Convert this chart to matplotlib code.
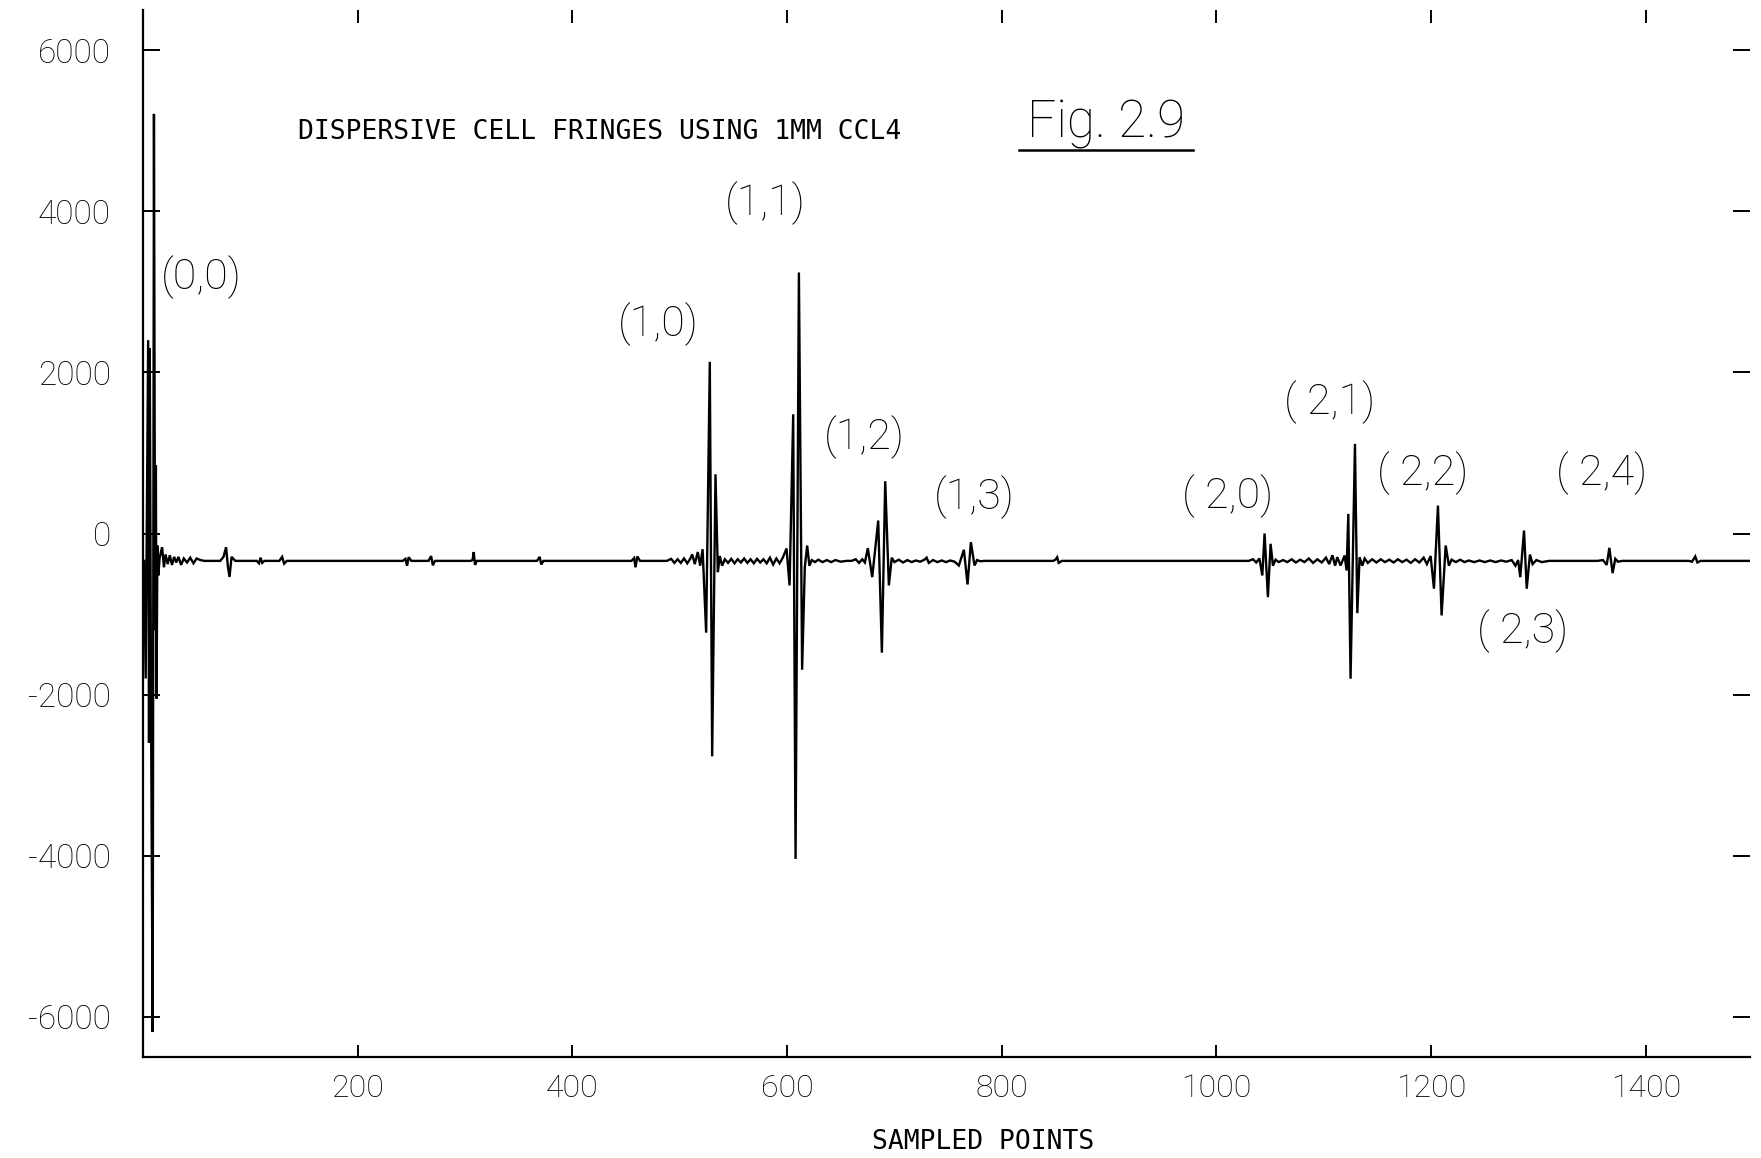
import numpy as np
import matplotlib
matplotlib.use("Agg")
import matplotlib.pyplot as plt
from matplotlib.lines import Line2D

plt.rcParams["axes.unicode_minus"] = False

# ---------------- data ----------------
x_limits = (0, 1497)
y_limits = (-6500, 6500)
x_ticks = [200, 400, 600, 800, 1000, 1200, 1400]
y_ticks = [-6000, -4000, -2000, 0, 2000, 4000, 6000]
baseline = -340

# burst (0,0) near the start and its ripple
b00_x = [1.0, 2.5, 4.8, 5.6, 6.3, 7.5, 9.0, 10.2, 11.3, 12.0, 12.6, 13.4, 14.3, 15.5,
         17.8, 19.5, 21.0, 23.0, 25.0, 27.0, 29.0, 31.0, 33.0, 35.5, 38.0, 41.0, 44.0,
         47.0, 50.0, 53.5, 57.0]
b00_y = [-340, -1800, 2400, -2600, 2300, -2200, -6190, 5210, -1200, 850, -2050, -150,
         -520, -300, -170, -420, -260, -380, -270, -390, -290, -360, -290, -390, -310,
         -360, -300, -370, -310, -330, -340]

# small blips along the baseline
ripple_x = [72, 75, 77.4, 79, 80.6, 82.5, 86,
            106, 108, 109.5, 111, 113,
            127, 129.6, 131.5, 134,
            242, 244.5, 246, 247.5, 250,
            266, 268.4, 270, 272,
            305, 307, 308.1, 309.3, 311,
            367, 369.5, 371, 373,
            455, 457.5, 458.8, 460.5, 463,
            848, 850, 851.6, 853, 856,
            1440, 1443, 1446, 1448, 1451]
ripple_y = [-340, -290, -170, -400, -540, -290, -340,
            -340, -370, -300, -365, -340,
            -340, -290, -375, -340,
            -340, -315, -400, -295, -340,
            -340, -280, -395, -340,
            -340, -330, -230, -390, -340,
            -340, -290, -385, -340,
            -340, -305, -420, -285, -340,
            -340, -325, -295, -365, -340,
            -340, -350, -285, -360, -340]

# bursts (1,0) and (1,1)
b1011_x = [488, 492, 495, 498, 501, 504, 507, 509.5, 511.6, 514, 516.8, 519, 521.3,
           524.6, 528.0, 530.2, 533.3, 535.5, 537.3, 539.5, 542, 545, 548, 551, 554,
           557, 560, 563, 566, 569, 572, 575, 578, 581, 584, 587, 590, 593, 596,
           599.5, 602.3, 605.7, 607.9, 611.0, 614.0, 616.5, 618.7, 620.8, 623, 626,
           629, 633, 637, 641, 645, 650, 655]
b1011_y = [-340, -315, -365, -320, -365, -310, -370, -320, -260, -380, -230, -400, -195,
           -1231, 2131, -2767, 735, -480, -280, -400, -320, -365, -315, -370, -320,
           -360, -310, -365, -320, -370, -315, -360, -320, -370, -300, -385, -310, -370, -300,
           -186, -645, 1480, -4041, 3241, -1691, -420, -150, -400, -330, -355,
           -325, -355, -330, -355, -330, -350, -340]

# bursts (1,2) and (1,3)
b1213_x = [660, 664, 667, 670, 672.5, 675.2, 679.3, 684.9, 688.3, 691.4, 694.8, 697.5,
           700, 704, 708, 712, 716, 720, 724, 728, 730, 732, 736, 740, 744, 748, 752,
           756, 760, 764.7, 768.1, 771.2, 774.6, 777, 780, 784]
b1213_y = [-340, -320, -365, -320, -360, -182, -542, 161, -1480, 649, -645, -300,
           -355, -325, -360, -330, -355, -335, -350, -325, -300, -365, -330, -355, -335, -355, -335,
           -350, -397, -202, -633, -108, -397, -330, -345, -340]

# bursts (2,0) .. (2,3)
b2x_x = [1030, 1034, 1037, 1040, 1042.7, 1044.8, 1047.9, 1050.4, 1052.6, 1055, 1058,
         1062, 1066, 1070, 1074, 1078, 1082, 1086, 1090, 1094, 1098, 1102, 1105, 1108,
         1110.5, 1112.5, 1115.6, 1119.4, 1121.2, 1122.8, 1124.9, 1129.0, 1131.2, 1133.3,
         1135.8, 1138, 1141, 1145, 1149, 1153, 1157, 1161, 1165, 1169, 1173, 1177, 1181,
         1185, 1189, 1193, 1196, 1199.5, 1202.6, 1206.3, 1209.7, 1213.5, 1216.5, 1219,
         1223, 1227, 1231, 1235, 1240, 1245, 1250, 1255, 1260, 1265, 1270, 1275, 1278.5,
         1281, 1283, 1286.5, 1289, 1292, 1294.5, 1298, 1303, 1310]
b2x_y = [-340, -320, -360, -310, -521, 0, -790, -128, -400, -325, -355,
         -330, -355, -320, -360, -325, -355, -310, -365, -320, -360, -300, -380, -270,
         -400, -294, -397, -273, -459, 244, -1803, 1113, -989, -294,
         -400, -310, -365, -320, -360, -320, -355, -325, -360, -320, -355, -325, -365,
         -320, -360, -300, -380, -280, -686, 347, -1017, -149, -400, -325,
         -355, -325, -355, -335, -355, -335, -355, -335, -355, -335, -350, -330, -400,
         -330, -542, 37, -686, -261, -380, -330, -355, -340]

# burst (2,4)
b24_x = [1355, 1360, 1363.5, 1366, 1369, 1371.5, 1374, 1378]
b24_y = [-340, -330, -390, -178, -492, -314, -350, -340]

end_x = [1497]
end_y = [-340]

# annotations
peak_labels = ["(0,0)", "(1,0)", "(1,1)", "(1,2)", "(1,3)",
               "( 2,0)", "( 2,1)", "( 2,2)", "( 2,3)", "( 2,4)"]
label_x = [54, 480, 580, 672, 774, 1010, 1105, 1192, 1285, 1359]
label_y = [3185, 2600, 4105, 1192, 454, 468, 1625, 747, -1218, 747]

title_text = "DISPERSIVE CELL FRINGES USING 1MM CCL4"
fig_text = "Fig. 2.9"
x_label = "SAMPLED POINTS"

# ---------------- assemble trace ----------------
xs = np.concatenate([b00_x, ripple_x, b1011_x, b1213_x, b2x_x, b24_x, end_x]).astype(float)
ys = np.concatenate([b00_y, ripple_y, b1011_y, b1213_y, b2x_y, b24_y, end_y]).astype(float)
order = np.argsort(xs, kind="stable")
xs, ys = xs[order], ys[order]

# ---------------- figure ----------------
W, H = 1761, 1158
fig = plt.figure(figsize=(W / 100, H / 100), dpi=100)
ax = fig.add_axes([143 / W, 1 - 1057 / H, (1750 - 143) / W, (1057 - 10) / H])

ax.plot(xs, ys, color="black", lw=1.7, solid_joinstyle="miter")

ax.set_xlim(*x_limits)
ax.set_ylim(*y_limits)
for side in ("top", "right"):
    ax.spines[side].set_visible(False)
for side in ("left", "bottom"):
    ax.spines[side].set_linewidth(1.6)

tick_font = dict(family=["Roboto", "DejaVu Sans"], weight="light")
ax.set_xticks(x_ticks)
ax.set_xticklabels([str(v) for v in x_ticks], fontsize=23, **tick_font)
ax.set_yticks(y_ticks)
ax.set_yticklabels([str(v) for v in y_ticks], fontsize=24, **tick_font)
ax.tick_params(axis="x", direction="in", top=True, bottom=True, length=9, width=1.4, pad=12)
ax.tick_params(axis="y", direction="in", left=True, right=True, length=12, width=1.4, pad=23)

ax.set_xlabel(x_label, family="DejaVu Sans Mono", fontsize=19)
ax.xaxis.set_label_coords((983 - 143) / 1607, -(1142 - 1057) / 1047)
ax.xaxis.label.set_va("center")

ax.text(425, 4982, title_text, family="DejaVu Sans Mono", fontsize=19,
        ha="center", va="center")

ax.text(897, 4913, fig_text, family=["Roboto", "DejaVu Sans"], weight="light",
        fontsize=37, ha="center", va="baseline")
ax.add_line(Line2D([(1019 - 143) / 1607, (1193 - 143) / 1607],
                   [(1057 - 150) / 1047, (1057 - 150) / 1047],
                   transform=ax.transAxes, color="black", lw=1.8))

for lab, lx, ly in zip(peak_labels, label_x, label_y):
    ax.text(lx, ly, lab, family=["Roboto", "DejaVu Sans"], weight="light",
            fontsize=31, ha="center", va="center")

fig.savefig("out.png", dpi=100, facecolor="white")
